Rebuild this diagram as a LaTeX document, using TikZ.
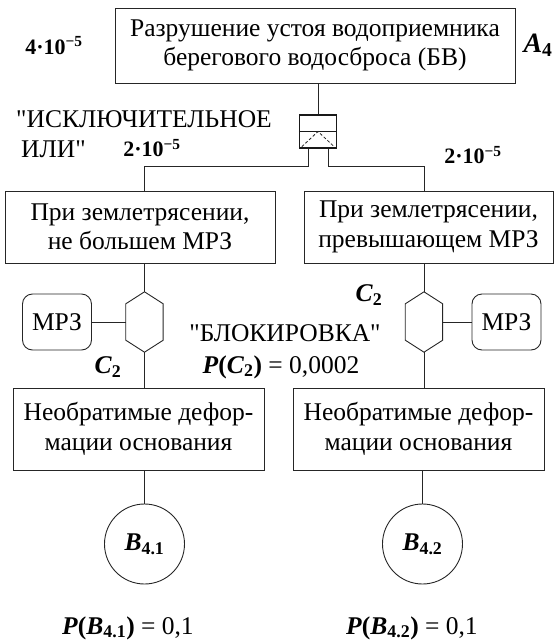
\documentclass[tikz,border=0pt]{standalone}
\usepackage{fontspec}
\setmainfont{Liberation Serif}
\usetikzlibrary{shapes.geometric}
\tikzstyle{fEvent} = [rectangle, draw=black!85, line width=0.9pt, align=center, inner sep=2pt]
\tikzstyle{fCond} = [rectangle, rounded corners=10pt, draw=black!85, line width=0.9pt, minimum width=69pt, minimum height=56pt]
\tikzstyle{fBasic} = [circle, draw=black!85, line width=0.9pt, minimum size=80pt, inner sep=0pt]
\tikzstyle{fXor} = [rectangle, draw=black!90, line width=1.4pt, minimum width=37pt, minimum height=33pt, inner sep=0pt]
\tikzstyle{fInhibit} = [rectangle, minimum width=37pt, minimum height=60pt, inner sep=0pt]
\tikzstyle{fLabel} = [font=\fontsize{22}{26}\selectfont\bfseries]
\tikzstyle{fName} = [font=\fontsize{28}{32}\selectfont\bfseries\itshape]
\tikzstyle{fLine} = [draw=black!85, line width=0.9pt]

\begin{document}
\begin{tikzpicture}[node distance=100pt, font=\fontsize{25.5}{29.5}\selectfont]
    \useasboundingbox (-315pt,45.5pt) rectangle (241pt,-595.5pt);
    \node (top) [fEvent, minimum width=400pt, minimum height=75pt] {Разрушение устоя водоприемника\\берегового водосброса (БВ)};
    \node (gate) [fXor, below of=top, yshift=14pt, xshift=3pt] {};
    \node (quakeLow) [fEvent, minimum width=270pt, minimum height=72pt, below of=gate, yshift=4.5pt, xshift=-178pt] {При землетрясении,\\не большем МРЗ};
    \node (quakeHigh) [fEvent, minimum width=249pt, minimum height=72pt, right of=quakeLow, xshift=188.5pt] {При землетрясении,\\превышающем МРЗ};
    \node (hexL) [fInhibit, below of=quakeLow, yshift=5pt, xshift=4.5pt] {};
    \node (hexR) [fInhibit, below of=quakeHigh, yshift=5pt, xshift=-4.5pt] {};
    \node (mrzL) [fCond, left of=hexL, xshift=12.5pt] {МРЗ};
    \node (mrzR) [fCond, right of=hexR, xshift=-17.5pt] {МРЗ};
    \node (defLow) [fEvent, minimum width=251pt, minimum height=82pt, below of=hexL, yshift=-7pt, xshift=-6pt] {Необратимые дефор-\\мации основания};
    \node (defHigh) [fEvent, minimum width=251pt, minimum height=82pt, below of=hexR, yshift=-7pt, xshift=-5.5pt] {Необратимые дефор-\\мации основания};
    \node (circL) [fBasic, below of=defLow, yshift=-15pt, xshift=6pt] {\textbf{\textit{B}\textsubscript{4.1}}};
    \node (circR) [fBasic, below of=defHigh, yshift=-15pt, xshift=4pt] {\textbf{\textit{B}\textsubscript{4.2}}};
    \node (probL) [below of=circL, yshift=16pt, xshift=-16.5pt] {\textbf{\textit{P}(\textit{B}\textsubscript{4.1})} = 0,1};
    \node (probR) [below of=circR, yshift=16pt, xshift=-10.5pt] {\textbf{\textit{P}(\textit{B}\textsubscript{4.2})} = 0,1};

    % labels
    \node (freqTop) [fLabel, left of=top, xshift=-161pt] {4·10\textsuperscript{−5}};
    \node (nameTop) [fName, right of=top, xshift=123pt] {A\textsubscript{\upshape 4}};
    \node (xorLbl) [align=left, left of=gate, xshift=-74pt, yshift=-2.5pt] {\textquotedbl ИСКЛЮЧИТЕЛЬНОЕ\\\hspace*{5pt}ИЛИ\textquotedbl};
    \node (freqLow) [fLabel, left of=gate, xshift=-66pt, yshift=-16.5pt] {2·10\textsuperscript{−5}};
    \node (freqHigh) [fLabel, right of=gate, xshift=55pt, yshift=-23.5pt] {2·10\textsuperscript{−5}};
    \node (condL) [below of=hexL, yshift=55pt, xshift=-36.5pt] {\textbf{\textit{C}\textsubscript{2}}};
    \node (condR) [left of=hexR, xshift=45pt, yshift=27pt] {\textbf{\textit{C}\textsubscript{2}}};
    \node (blockLbl) [right of=hexL, xshift=40.5pt, yshift=-11pt] {\textquotedbl БЛОКИРОВКА\textquotedbl};
    \node (probC) [below of=blockLbl, yshift=66pt, xshift=-4pt] {\textbf{\textit{P}(\textit{C}\textsubscript{2})} = 0,0002};

    % gate symbols
    \draw [draw=black!90, line width=1.4pt] (gate.west) -- (gate.east);
    \draw [draw=black!85, line width=0.8pt, densely dashed] ([shift={(3pt,2pt)}]gate.south west) -- (gate.center) -- ([shift={(-3pt,2pt)}]gate.south east);
    \foreach \h in {hexL, hexR}
        \draw [fLine] (\h.north) -- ([yshift=-12pt]\h.north east) -- ([yshift=12pt]\h.south east) -- (\h.south) -- ([yshift=12pt]\h.south west) -- ([yshift=-12pt]\h.north west) -- cycle;

    \draw [fLine] (gate.north) -- (gate.north |- top.south);
    \draw [fLine] ([xshift=-10pt]gate.south) -- ++(0,-18pt) -| (hexL |- quakeLow.north);
    \draw [fLine] ([xshift=10pt]gate.south) -- ++(0,-18pt) -| (hexR |- quakeHigh.north);
    \draw [fLine] (hexL.north) -- (hexL.north |- quakeLow.south);
    \draw [fLine] (hexR.north) -- (hexR.north |- quakeHigh.south);
    \draw [fLine] (mrzL) -- (hexL.west);
    \draw [fLine] (mrzR) -- (hexR.east);
    \draw [fLine] (hexL.south) -- (hexL.south |- defLow.north);
    \draw [fLine] (hexR.south) -- (hexR.south |- defHigh.north);
    \draw [fLine] (circL.north) -- (circL.north |- defLow.south);
    \draw [fLine] (circR.north) -- (circR.north |- defHigh.south);
\end{tikzpicture}
\end{document}
